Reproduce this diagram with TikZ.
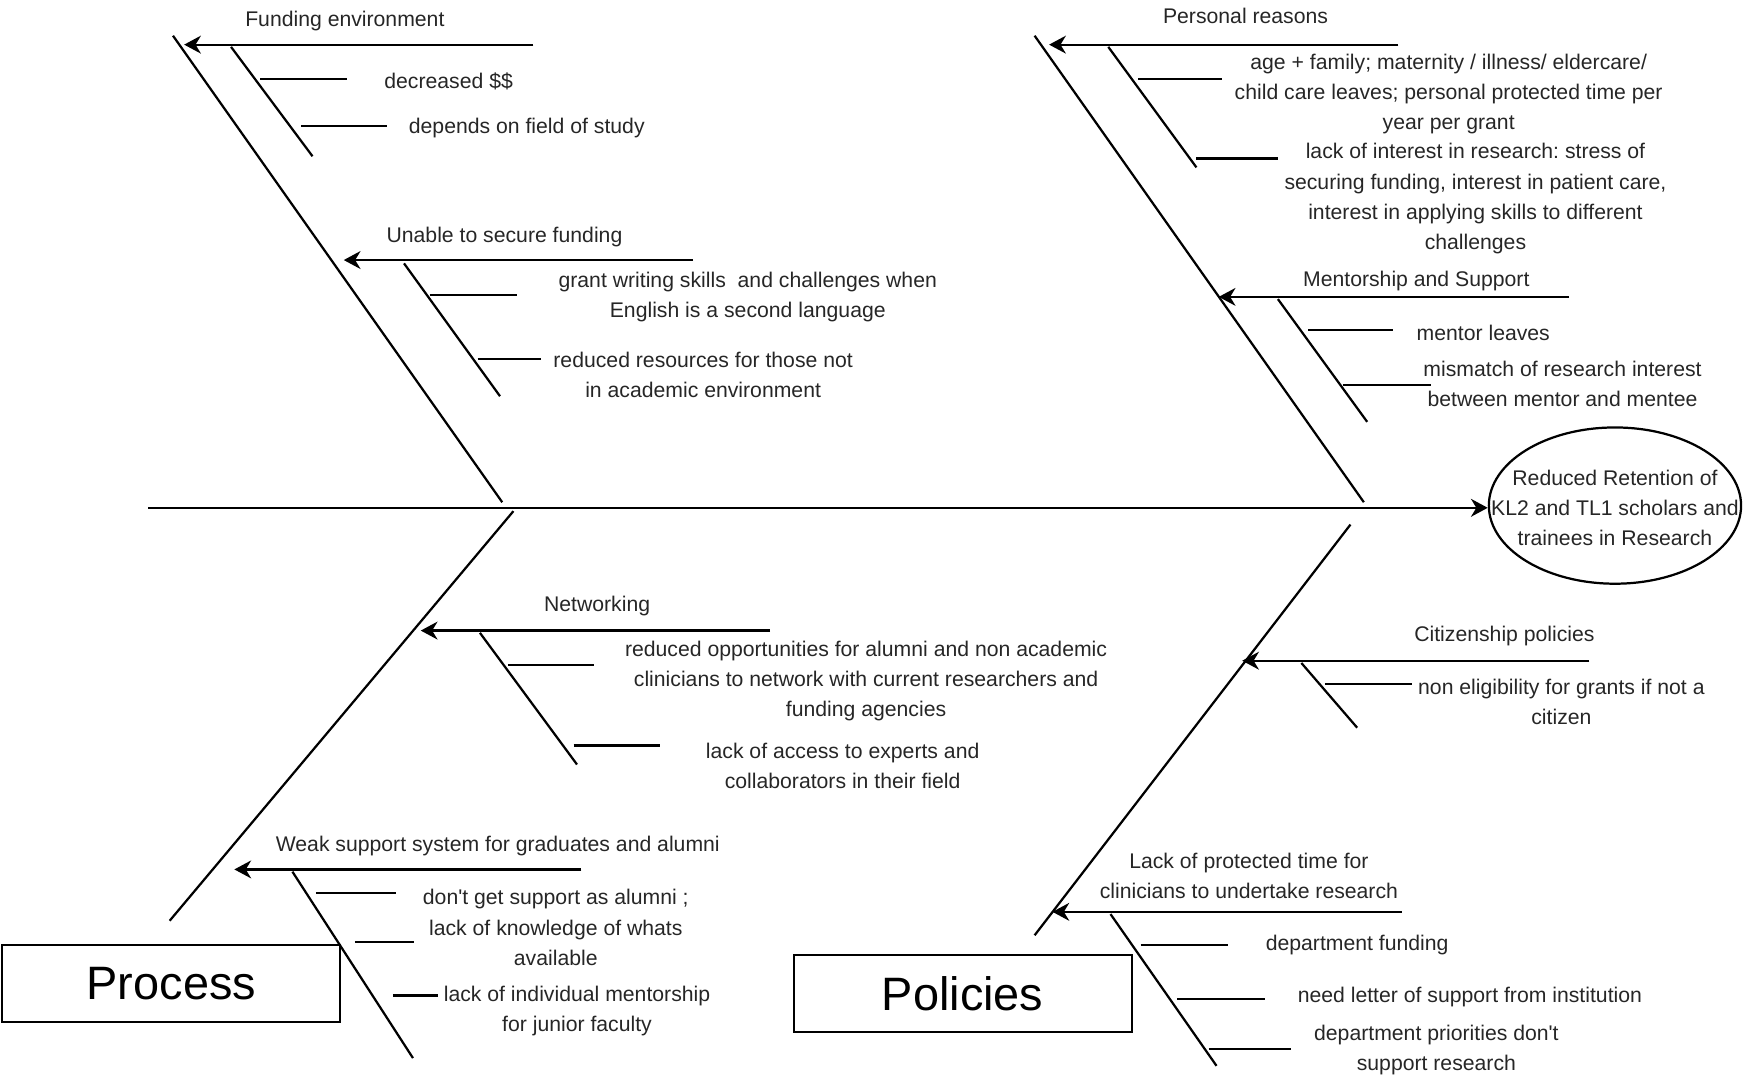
\documentclass[tikz,border=0pt]{standalone}
\usepackage{fontspec}
\setmainfont{Liberation Sans}
\usetikzlibrary{arrows.meta,shapes.geometric}
\frenchspacing
\begin{document}
\begin{tikzpicture}[x=0.5pt,y=-0.5pt,
  bone/.style={line width=1pt},
  cause/.style={line width=1pt,-{Stealth[length=7.5pt,width=8pt,inset=2.4pt]}},
  txt/.style={font=\fontsize{9.5}{13.5}\selectfont,align=center,inner sep=0pt,text=black!85,yshift=-1pt},
  catbox/.style={draw,line width=0.9pt,minimum width=151.5pt,minimum height=34.5pt,inner sep=0pt,font=\fontsize{21}{25}\selectfont},
  goalshape/.style={draw,ellipse,line width=1pt,minimum width=113pt,minimum height=70pt,inner sep=0pt}]
\useasboundingbox (0,0) rectangle (1568,963);

% ---------- coordinates ----------
% top-left
\coordinate (A1) at (155,32);   \coordinate (A2) at (450,450);
\coordinate (fe1) at (478,40);  \coordinate (fe0) at (165,40);
\coordinate (fs0) at (207,42);  \coordinate (fs1) at (280,140);
\coordinate (ft1a) at (233,71); \coordinate (ft1b) at (311,71);
\coordinate (ft2a) at (270,113);\coordinate (ft2b) at (347,113);
\coordinate (us1) at (621,233); \coordinate (us0) at (308,233);
\coordinate (uss0) at (362,236);\coordinate (uss1) at (448,355);
\coordinate (ut1a) at (385,264);\coordinate (ut1b) at (463,264);
\coordinate (ut2a) at (428,322);\coordinate (ut2b) at (485,322);
% top-right
\coordinate (B1) at (927,32);   \coordinate (B2) at (1222,450);
\coordinate (pr1) at (1253,40); \coordinate (pr0) at (940,40);
\coordinate (prs0) at (993,42); \coordinate (prs1) at (1072,150);
\coordinate (pt1a) at (1020,71);\coordinate (pt1b) at (1095,71);
\coordinate (pt2a) at (1072,142);\coordinate (pt2b) at (1145,142);
\coordinate (ms1) at (1406,266);\coordinate (ms0) at (1092,266);
\coordinate (mss0) at (1145,268);\coordinate (mss1) at (1225,378);
\coordinate (mt1a) at (1172,296);\coordinate (mt1b) at (1248,296);
\coordinate (mt2a) at (1203,345);\coordinate (mt2b) at (1282,345);
% spine
\coordinate (S0) at (133,455);
% bottom-left
\coordinate (C1) at (460,458);  \coordinate (C2) at (152,825);
\coordinate (nw1) at (690,565); \coordinate (nw0) at (377,565);
\coordinate (nws0) at (430,567);\coordinate (nws1) at (517,685);
\coordinate (nt1a) at (455,596);\coordinate (nt1b) at (532,596);
\coordinate (nt2a) at (514,668);\coordinate (nt2b) at (591,668);
\coordinate (ws1) at (521,779); \coordinate (ws0) at (210,779);
\coordinate (wss0) at (262,781);\coordinate (wss1) at (370,948);
\coordinate (wt1a) at (283,800);\coordinate (wt1b) at (355,800);
\coordinate (wt2a) at (318,844);\coordinate (wt2b) at (371,844);
\coordinate (wt3a) at (352,892);\coordinate (wt3b) at (392,892);
% bottom-right
\coordinate (D1) at (1210,470); \coordinate (D2) at (927,838);
\coordinate (cp1) at (1424,592);\coordinate (cp0) at (1113,592);
\coordinate (cps0) at (1166,594);\coordinate (cps1) at (1216,652);
\coordinate (ct1a) at (1187,613);\coordinate (ct1b) at (1265,613);
\coordinate (lp1) at (1256,817);\coordinate (lp0) at (943,817);
\coordinate (lps0) at (995,819);\coordinate (lps1) at (1090,955);
\coordinate (lt1a) at (1022,847);\coordinate (lt1b) at (1100,847);
\coordinate (lt2a) at (1055,895);\coordinate (lt2b) at (1133,895);
\coordinate (lt3a) at (1083,940);\coordinate (lt3b) at (1157,940);

% ---------- nodes ----------
\node[goalshape] (goal) at (1447,453) {};
\node[txt] (goaltext) at (1447,453) {Reduced Retention of\\KL2 and TL1 scholars and\\trainees in Research};
\node[catbox] (process) at (153.5,881.5) {Process};
\node[catbox] (policies) at (862.5,890.5) {Policies};

\node[txt] (lfe) at (309,17) {Funding environment};
\node[txt] (lft1) at (402,71) {decreased \$\$};
\node[txt] (lft2) at (472,113) {depends on field of study};
\node[txt] (lus) at (452,210) {Unable to secure funding};
\node[txt] (lut1) at (670,264) {grant writing skills\ \ and challenges when\\English is a second language};
\node[txt] (lut2) at (630,334) {reduced resources for those not\\in academic environment};

\node[txt] (lpr) at (1116,12) {Personal reasons};
\node[txt] (lpt1) at (1298,82) {age + family; maternity / illness/ eldercare/\\child care leaves; personal protected time per\\year per grant};
\node[txt] (lpt2) at (1322,176) {lack of interest in research: stress of\\securing funding, interest in patient care,\\interest in applying skills to different\\challenges};
\node[txt] (lms) at (1269,250) {Mentorship and Support};
\node[txt] (lmt1) at (1329,296) {mentor leaves};
\node[txt] (lmt2) at (1400,342) {mismatch of research interest\\between mentor and mentee};

\node[txt] (lnw) at (535,541) {Networking};
\node[txt] (lnt1) at (776,608) {reduced opportunities for alumni and non academic\\clinicians to network with current researchers and\\funding agencies};
\node[txt] (lnt2) at (755,684) {lack of access to experts and\\collaborators in their field};
\node[txt] (lws) at (446,756) {Weak support system for graduates and alumni};
\node[txt] (lwt1) at (498,829) {don\textquotesingle t get support as alumni ;\\lack of knowledge of whats\\available};
\node[txt] (lwt3) at (517,904) {lack of individual mentorship\\for junior faculty};

\node[txt] (lcp) at (1348,568) {Citizenship policies};
\node[txt] (lct1) at (1399,627) {non eligibility for grants if not a\\citizen};
\node[txt] (llp) at (1119,783) {Lack of protected time for\\clinicians to undertake research};
\node[txt] (llt1) at (1216,845) {department funding};
\node[txt] (llt2) at (1317,891) {need letter of support from institution};
\node[txt] (llt3) at (1287,939) {department priorities don\textquotesingle t\\support research};

% ---------- lines ----------
\draw[cause] (S0) -- (S0 -| goal.west);

\draw[bone] (A1) -- (A2);
\draw[cause] (fe1) -- (fe0);
\draw[bone] (fs0) -- (fs1);
\draw[bone] (ft1a) -- (ft1b);
\draw[bone] (ft2a) -- (ft2b);
\draw[cause] (us1) -- (us0);
\draw[bone] (uss0) -- (uss1);
\draw[bone] (ut1a) -- (ut1b);
\draw[bone] (ut2a) -- (ut2b);

\draw[bone] (B1) -- (B2);
\draw[cause] (pr1) -- (pr0);
\draw[bone] (prs0) -- (prs1);
\draw[bone] (pt1a) -- (pt1b);
\draw[bone] (pt2a) -- (pt2b);
\draw[cause] (ms1) -- (ms0);
\draw[bone] (mss0) -- (mss1);
\draw[bone] (mt1a) -- (mt1b);
\draw[bone] (mt2a) -- (mt2b);

\draw[bone] (C1) -- (C2);
\draw[cause] (nw1) -- (nw0);
\draw[bone] (nws0) -- (nws1);
\draw[bone] (nt1a) -- (nt1b);
\draw[bone] (nt2a) -- (nt2b);
\draw[cause] (ws1) -- (ws0);
\draw[bone] (wss0) -- (wss1);
\draw[bone] (wt1a) -- (wt1b);
\draw[bone] (wt2a) -- (wt2b);
\draw[bone] (wt3a) -- (wt3b);

\draw[bone] (D1) -- (D2);
\draw[cause] (cp1) -- (cp0);
\draw[bone] (cps0) -- (cps1);
\draw[bone] (ct1a) -- (ct1b);
\draw[cause] (lp1) -- (lp0);
\draw[bone] (lps0) -- (lps1);
\draw[bone] (lt1a) -- (lt1b);
\draw[bone] (lt2a) -- (lt2b);
\draw[bone] (lt3a) -- (lt3b);
\end{tikzpicture}
\end{document}
